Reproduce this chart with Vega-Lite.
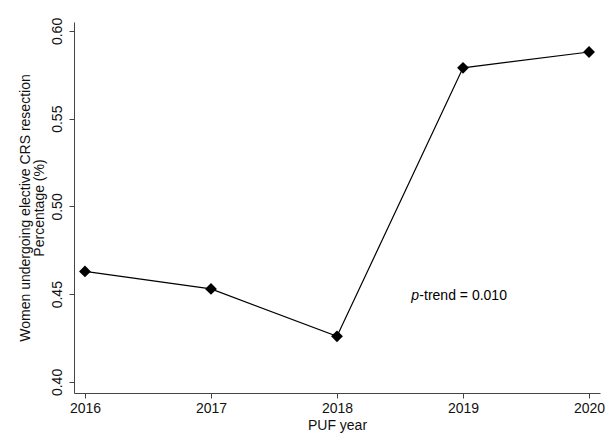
{
  "$schema": "https://vega.github.io/schema/vega-lite/v6.json",
  "width": 526,
  "height": 371,
  "autosize": "none",
  "padding": {"left": 74, "top": 22, "right": 5, "bottom": 46},
  "background": "white",
  "config": {
    "view": {"stroke": null},
    "font": "Liberation Sans",
    "axis": {
      "grid": false,
      "domainColor": "#444",
      "tickColor": "#444",
      "tickSize": 5,
      "labelFont": "Liberation Sans",
      "titleFont": "Liberation Sans",
      "labelFontSize": 14,
      "titleFontSize": 14,
      "labelColor": "#111",
      "titleColor": "#111",
      "titleFontWeight": "normal"
    }
  },
  "data": {
    "values": [
      {"year": 2016, "pct": 0.463},
      {"year": 2017, "pct": 0.453},
      {"year": 2018, "pct": 0.426},
      {"year": 2019, "pct": 0.579},
      {"year": 2020, "pct": 0.588}
    ]
  },
  "layer": [
    {
      "mark": {"type": "line", "color": "black", "strokeWidth": 1.2},
      "encoding": {
        "x": {
          "field": "year", "type": "quantitative",
          "scale": {"domain": [2015.913, 2020.087], "nice": false, "zero": false},
          "axis": {"values": [2016, 2017, 2018, 2019, 2020], "format": "d", "title": "PUF year", "labelPadding": 3, "titlePadding": 3, "labelFlush": false}
        },
        "y": {
          "field": "pct", "type": "quantitative",
          "scale": {"domain": [0.3937, 0.6051], "nice": false, "zero": false},
          "axis": {
            "values": [0.40, 0.45, 0.50, 0.55, 0.60], "format": ".2f",
            "labelAngle": -90, "labelAlign": "center", "labelBaseline": "bottom",
            "labelPadding": 5,
            "title": ["Women undergoing elective CRS resection", "Percentage (%)"],
            "titlePadding": 4, "titleLineHeight": 14, "labelFlush": false
          }
        }
      }
    },
    {
      "mark": {"type": "point", "shape": "diamond", "filled": true, "color": "black", "size": 140, "opacity": 1},
      "encoding": {
        "x": {"field": "year", "type": "quantitative"},
        "y": {"field": "pct", "type": "quantitative"}
      }
    },
    {
      "data": {"values": [{"x": 2018.59, "y": 0.449, "t": "p"}]},
      "mark": {"type": "text", "align": "left", "baseline": "middle", "fontSize": 14, "fontStyle": "italic", "font": "Liberation Sans", "color": "black"},
      "encoding": {
        "x": {"field": "x", "type": "quantitative"},
        "y": {"field": "y", "type": "quantitative"},
        "text": {"field": "t"}
      }
    },
    {
      "data": {"values": [{"x": 2018.59, "y": 0.449, "t": "-trend = 0.010"}]},
      "mark": {"type": "text", "align": "left", "baseline": "middle", "fontSize": 14, "dx": 8, "font": "Liberation Sans", "color": "black"},
      "encoding": {
        "x": {"field": "x", "type": "quantitative"},
        "y": {"field": "y", "type": "quantitative"},
        "text": {"field": "t"}
      }
    }
  ]
}
